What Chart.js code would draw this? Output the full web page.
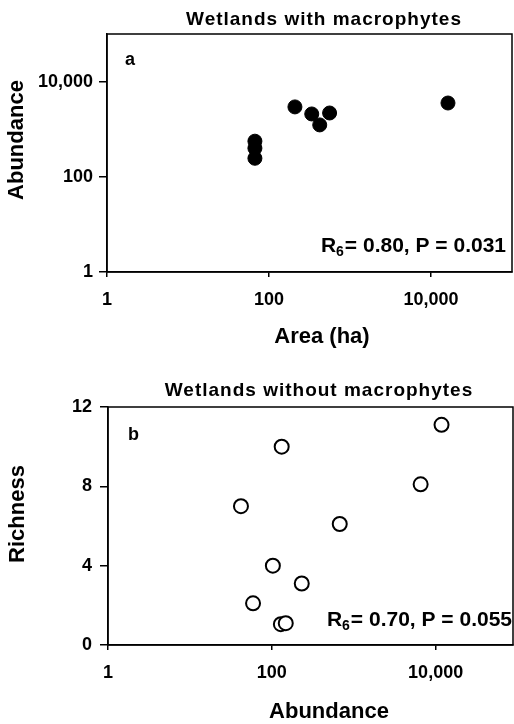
<!DOCTYPE html>
<html lang="en">
<head>
<meta charset="UTF-8">
<title>Wetlands</title>
<style>
  body{margin:0;background:#fff;}
  .box{position:absolute;left:0;width:514px;}
</style>
</head>
<body>
<div class="box" style="top:0;height:360px"><canvas id="chartA"></canvas></div>
<div class="box" style="top:360px;height:364px"><canvas id="chartB"></canvas></div>
<script src="https://cdn.jsdelivr.net/npm/chart.js"></script>
<script>
// panel a - wetlands with macrophytes
var areaA = [67, 67, 67, 209, 337, 423, 560, 16200]
var abundA = [560, 400, 245, 2940, 2090, 1230, 2190, 3550]
// panel b - wetlands without macrophytes
var abundB = [11800, 132, 6560, 42, 675, 103, 232, 59, 129, 148]
var richB = [11.1, 10.0, 8.1, 7.0, 6.1, 4.0, 3.1, 2.1, 1.05, 1.1]
var logTicks = [1, 100, 10000]
var richTicks = [0, 4, 8, 12]

var FONT = "'Liberation Sans', Arial, Helvetica, sans-serif"

function toPoints(xs, ys){
  return xs.map((x,i)=>({x:x, y:ys[i]}))
}

function fixedTicks(list){
  return function(axis){ axis.ticks = list.map(v=>({value:v})) }
}

function statText(c, parts, right, base){
  // R, subscript 6, rest
  c.textAlign='left'
  c.font='bold 21px '+FONT
  var w1=c.measureText(parts[0]).width, w3=c.measureText(parts[2]).width
  c.font='bold 14px '+FONT
  var w2=c.measureText(parts[1]).width
  var x=right-w1-w2-w3-1
  c.font='bold 21px '+FONT
  c.fillText(parts[0],x,base)
  c.font='bold 14px '+FONT
  c.fillText(parts[1],x+w1,base+4)
  c.font='bold 21px '+FONT
  c.fillText(parts[2],x+w1+w2+1,base)
}

function extras(o){
  return {
    id:'extras',
    afterDraw(chart){
      var c=chart.ctx, a=chart.chartArea
      c.save()
      c.strokeStyle='#000'; c.lineWidth=1.5
      c.strokeRect(a.left,a.top,a.right-a.left,a.bottom-a.top)
      c.fillStyle='#000'
      c.textBaseline='alphabetic'
      // title
      c.font='bold 19px '+FONT
      c.letterSpacing='1px'
      c.textAlign='center'
      c.fillText(o.title,o.titleX,o.titleY)
      c.letterSpacing='0px'
      // panel letter
      c.textAlign='left'
      c.font='bold 18px '+FONT
      c.fillText(o.letter,o.letterX,o.letterY)
      // axis titles
      c.font='bold 22px '+FONT
      c.textAlign='center'
      c.textBaseline='middle'
      c.fillText(o.xTitle,o.xTitleX,o.xTitleY)
      c.save()
      c.translate(o.yTitleX,o.yTitleY)
      c.rotate(-Math.PI/2)
      c.fillText(o.yTitle,0,0)
      c.restore()
      c.textBaseline='alphabetic'
      statText(c,o.stat,o.statRight,o.statY)
      c.restore()
    }
  }
}

function axisStyle(tickLen,pad,size){
  return {
    ticks:{color:'#000',padding:pad,autoSkip:false,maxRotation:0,
      font:{family:FONT,size:size,weight:'bold'},
      callback:v=>Number(v).toLocaleString('en-US')},
    grid:{drawOnChartArea:false,drawTicks:true,tickLength:tickLen,color:'#000',lineWidth:1.5},
    border:{display:true,color:'#000',width:1.5}
  }
}

var ctxA=document.getElementById('chartA')
var chartA=new Chart(ctxA,{
  type:'scatter',
  data:{datasets:[{
    data:toPoints(areaA,abundA),
    backgroundColor:'#000',borderColor:'#000',borderWidth:1,pointRadius:7
  }]},
  options:{
    responsive:true,maintainAspectRatio:false,animation:false,
    layout:{autoPadding:false,padding:{top:34,right:2,left:0,bottom:0}},
    plugins:{legend:{display:false},tooltip:{enabled:false}},
    scales:{
      x:Object.assign({type:'logarithmic',min:1,max:100000,
        afterBuildTicks:fixedTicks(logTicks),
        afterFit:s=>{s.height=88}},axisStyle(5,12,18)),
      y:Object.assign({type:'logarithmic',min:1,max:100000,
        afterBuildTicks:fixedTicks(logTicks),
        afterFit:s=>{s.width=107}},axisStyle(8,6,18))
    }
  },
  plugins:[extras({
    title:'Wetlands with macrophytes',titleX:324,titleY:25,
    letter:'a',letterX:125,letterY:65,
    xTitle:'Area (ha)',xTitleX:322,xTitleY:337,
    yTitle:'Abundance',yTitleX:17,yTitleY:140,
    stat:['R','6','= 0.80, P = 0.031'],statRight:506,statY:252
  })]
})

var ctxB=document.getElementById('chartB')
var chartB=new Chart(ctxB,{
  type:'scatter',
  data:{datasets:[{
    data:toPoints(abundB,richB),
    backgroundColor:'#fff',borderColor:'#000',borderWidth:2,pointRadius:7
  }]},
  options:{
    responsive:true,maintainAspectRatio:false,animation:false,
    layout:{autoPadding:false,padding:{top:47,right:1,left:0,bottom:0}},
    plugins:{legend:{display:false},tooltip:{enabled:false}},
    scales:{
      x:Object.assign({type:'logarithmic',min:1,max:88000,
        afterBuildTicks:fixedTicks(logTicks),
        afterFit:s=>{s.height=79}},axisStyle(5,12,18)),
      y:Object.assign({type:'linear',min:0,max:12,
        afterBuildTicks:fixedTicks(richTicks),
        afterFit:s=>{s.width=108}},axisStyle(8,8,18))
    }
  },
  plugins:[extras({
    title:'Wetlands without macrophytes',titleX:319,titleY:36,
    letter:'b',letterX:128,letterY:80,
    xTitle:'Abundance',xTitleX:329,xTitleY:352,
    yTitle:'Richness',yTitleX:18,yTitleY:154,
    stat:['R','6','= 0.70, P = 0.055'],statRight:512,statY:266
  })]
})
</script>
</body>
</html>
